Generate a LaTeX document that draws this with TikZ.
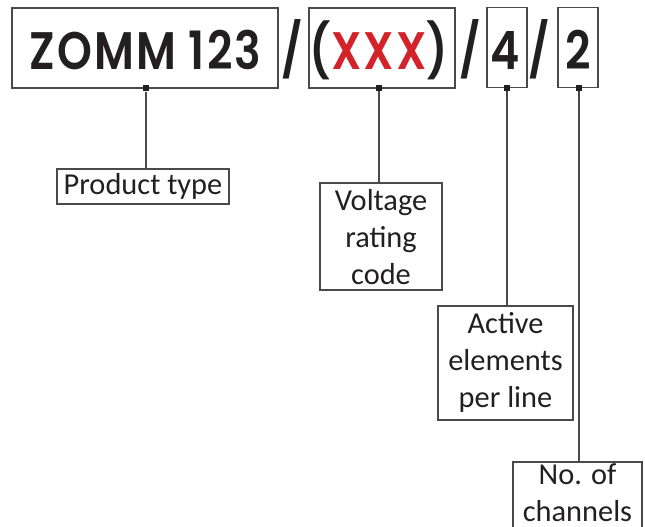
\documentclass[tikz,border=0pt]{standalone}
\usepackage{fontspec}
\setmainfont{Carlito}
\newfontfamily\topfont{Poppins SemiBold}[FakeStretch=0.84,LetterSpace=4]
\definecolor{ink}{HTML}{231F20}
\definecolor{codered}{HTML}{D2232A}
\definecolor{edge}{HTML}{4A4A4A}
\begin{document}
\begin{tikzpicture}[x=1bp,y=-1bp,
  topbox/.style={draw=edge,line width=1.4bp,inner sep=0pt,minimum width=#1,minimum height=80bp},
  toptext/.style={font=\topfont\fontsize{53}{60}\selectfont,text=ink,inner sep=0pt,anchor=base},
  lblbox/.style={draw=edge,line width=1.1bp,inner sep=0pt},
  lbltext/.style={font=\fontsize{30.5}{37}\selectfont,text=ink,inner sep=0pt,anchor=base,align=center},
  conn/.style={draw=edge,line width=1.1bp},
  marker/.style={fill=ink,inner sep=0pt,minimum size=6bp}]
\useasboundingbox (0,0) rectangle (645,527);
% top boxes
\node[topbox=266bp] (b1) at (145,48) {};
\node[topbox=146bp] (b2) at (382,48) {};
\node[topbox=40bp] (b3) at (507,47.5) {};
\node[topbox=40bp] (b4) at (578,47.5) {};
% top texts
\node[toptext] (t1) at (145.5,70) {ZOMM 123};
\node[toptext] (t2) at (379,70) {(\textcolor{codered}{XXX})};
\node[toptext] (t3) at (505.5,70) {4};
\node[toptext] (t4) at (578.5,70) {2};
\node[toptext] (s1) at (292,70) {/};
\node[toptext] (s2) at (470.5,70) {/};
\node[toptext] (s3) at (539,70) {/};
% label boxes
\node[lblbox,minimum width=172bp,minimum height=35bp] (l1) at (143,186.5) {};
\node[lblbox,minimum width=122bp,minimum height=107bp] (l2) at (381,236.5) {};
\node[lblbox,minimum width=135bp,minimum height=114bp] (l3) at (505.5,363) {};
\node[lblbox,minimum width=129bp,minimum height=80bp] (l4) at (577.5,502) {};
% label texts (anchor base = last line)
\node[lbltext] (x1) at (143,195) {Product type};
\node[lbltext] (x2) at (381,284) {Voltage\\rating\\code};
\node[lbltext] (x3) at (505.5,407) {Active\\elements\\per line};
\node[lbltext] (x4) at (577.5,521) {No. of\\channels};
% markers and connectors
\node[marker] (m1) at (146,88.5) {};
\node[marker] (m2) at (379,88) {};
\node[marker] (m3) at (507,88) {};
\node[marker] (m4) at (579,88) {};
\draw[conn] (m1) -- (m1 |- l1.north);
\draw[conn] (m2) -- (m2 |- l2.north);
\draw[conn] (m3) -- (m3 |- l3.north);
\draw[conn] (m4) -- (m4 |- l4.north);
\end{tikzpicture}
\end{document}
